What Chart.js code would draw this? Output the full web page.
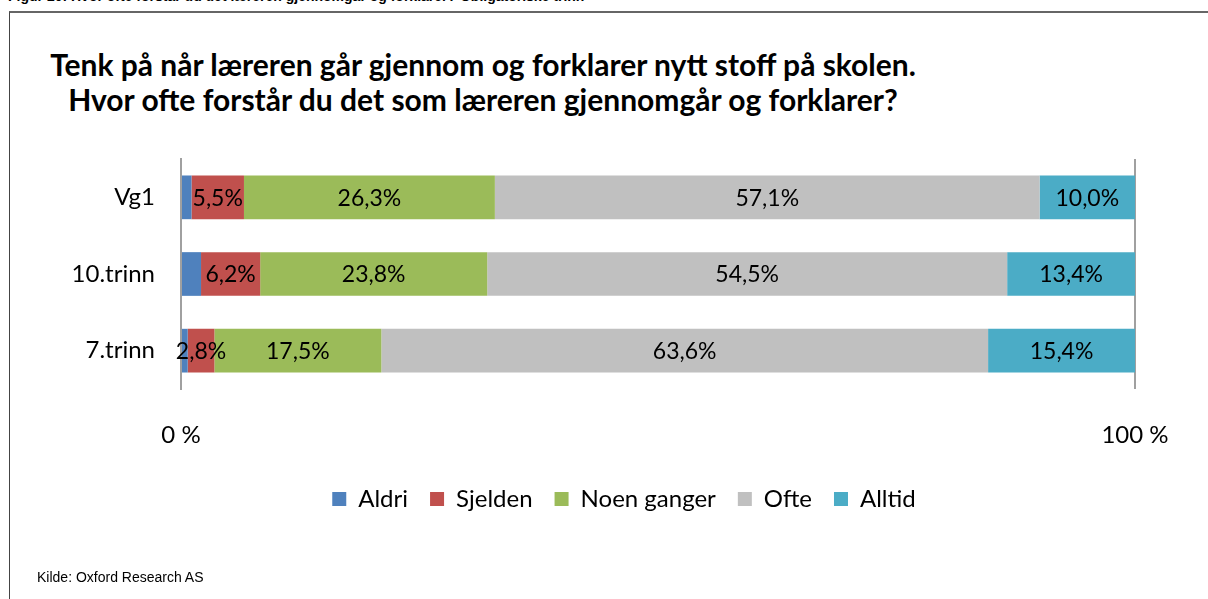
<!DOCTYPE html>
<html>
<head>
<meta charset="utf-8">
<script src="https://cdn.jsdelivr.net/npm/chart.js@4.4.1/dist/chart.umd.min.js"></script>
<style>
  html, body { margin:0; padding:0; background:#fff; }
  body { width:1208px; height:599px; position:relative; overflow:hidden; }
  #header { position:absolute; left:8px; top:-12px; font:bold 14px "Liberation Sans", Arial, sans-serif; color:#000; white-space:nowrap; }
  #frame { position:absolute; left:9px; top:11px; width:1230px; height:620px; border-top:2px solid #666; border-left:1px solid #444; box-sizing:border-box; }
  #title { position:absolute; left:0; width:966px; top:47px; text-align:center; font:bold 30px Lato, sans-serif; line-height:35px; color:#000; }
  #source { position:absolute; left:37px; top:569px; font:14px "Liberation Sans", Arial, sans-serif; color:#000; }
  #wrap { position:absolute; left:0; top:0; width:1208px; height:599px; }
</style>
</head>
<body>
<div id="header">Figur 20: Hvor ofte forstår du det læreren gjennomgår og forklarer? Obligatoriske trinn</div>
<div id="frame"></div>
<div id="title">Tenk på når læreren går gjennom og forklarer nytt stoff på skolen.<br>Hvor ofte forstår du det som læreren gjennomgår og forklarer?</div>
<div id="wrap"><canvas id="c" width="1208" height="599"></canvas></div>
<div id="source">Kilde: Oxford Research AS</div>
<script>
const categories = ["Vg1", "10.trinn", "7.trinn"];
const seriesNames = ["Aldri", "Sjelden", "Noen ganger", "Ofte", "Alltid"];
const aldri = [1.1, 2.1, 0.7];
const sjelden = [5.5, 6.2, 2.8];
const noenGanger = [26.3, 23.8, 17.5];
const ofte = [57.1, 54.5, 63.6];
const alltid = [10.0, 13.4, 15.4];
const tickLabels = ["0 %", "100 %"];
const showLabel = [false, true, true, true, true];

const colors = ["#4F81BD", "#C0504D", "#9BBB59", "#C0C0C0", "#4BACC6"];
const values = [aldri, sjelden, noenGanger, ofte, alltid];

const FONT = "Lato, sans-serif";
const FS = 23;
const FS_AXIS = 24;

const labelPlugin = {
  id: 'segLabels',
  afterDatasetsDraw(chart) {
    const ctx = chart.ctx;
    ctx.save();
    ctx.font = FS + "px " + FONT;
    ctx.fillStyle = "#000";
    ctx.textAlign = "center";
    ctx.textBaseline = "middle";
    chart.data.datasets.forEach((ds, di) => {
      if (!showLabel[di]) return;
      const meta = chart.getDatasetMeta(di);
      meta.data.forEach((bar, i) => {
        const v = ds.data[i];
        const cx = (bar.x + bar.base) / 2;
        ctx.fillText(v.toFixed(1).replace('.', ',') + '%', cx, bar.y + 1);
      });
    });
    ctx.restore();
  }
};

// shift the legend so it is centred where the reference places it
const legendShift = {
  id: 'legendShift',
  afterLayout(chart) {
    const lg = chart.legend;
    const target = 624;
    const cur = (lg.left + lg.right) / 2;
    const d = target - cur;
    lg.left += d; lg.right += d;
  }
};

new Chart(document.getElementById('c'), {
  type: 'bar',
  data: {
    labels: categories,
    datasets: seriesNames.map((n, i) => ({
      label: n,
      data: values[i],
      backgroundColor: colors[i],
      borderWidth: 0,
      categoryPercentage: 1,
      barPercentage: 0.57
    }))
  },
  options: {
    indexAxis: 'y',
    responsive: false,
    animation: false,
    layout: { padding: { left: 0, right: 73, top: 159, bottom: 78 } },
    scales: {
      x: {
        stacked: true,
        min: 0, max: 100,
        afterBuildTicks(s) { s.ticks = [{value: 0}, {value: 100}]; },
        ticks: {
          padding: 32,
          font: { family: FONT, size: FS_AXIS },
          color: "#000",
          callback: (v) => v === 0 ? tickLabels[0] : tickLabels[1]
        },
        grid: { color: "#A0A0A0", lineWidth: 2, drawTicks: false },
        border: { display: false },
        afterFit(s) { s.height = 76; }
      },
      y: {
        stacked: true,
        ticks: { padding: 18, font: { family: FONT, size: FS_AXIS }, color: "#000" },
        grid: { display: false },
        border: { display: true, color: "#A0A0A0", width: 2 },
        afterFit(s) { s.width = 181; }
      }
    },
    plugins: {
      legend: {
        position: 'bottom',
        labels: { boxWidth: 14, boxHeight: 14, padding: 22, font: { family: FONT, size: FS_AXIS }, color: "#000" }
      },
      tooltip: { enabled: false }
    }
  },
  plugins: [labelPlugin, legendShift]
});
</script>
</body>
</html>
